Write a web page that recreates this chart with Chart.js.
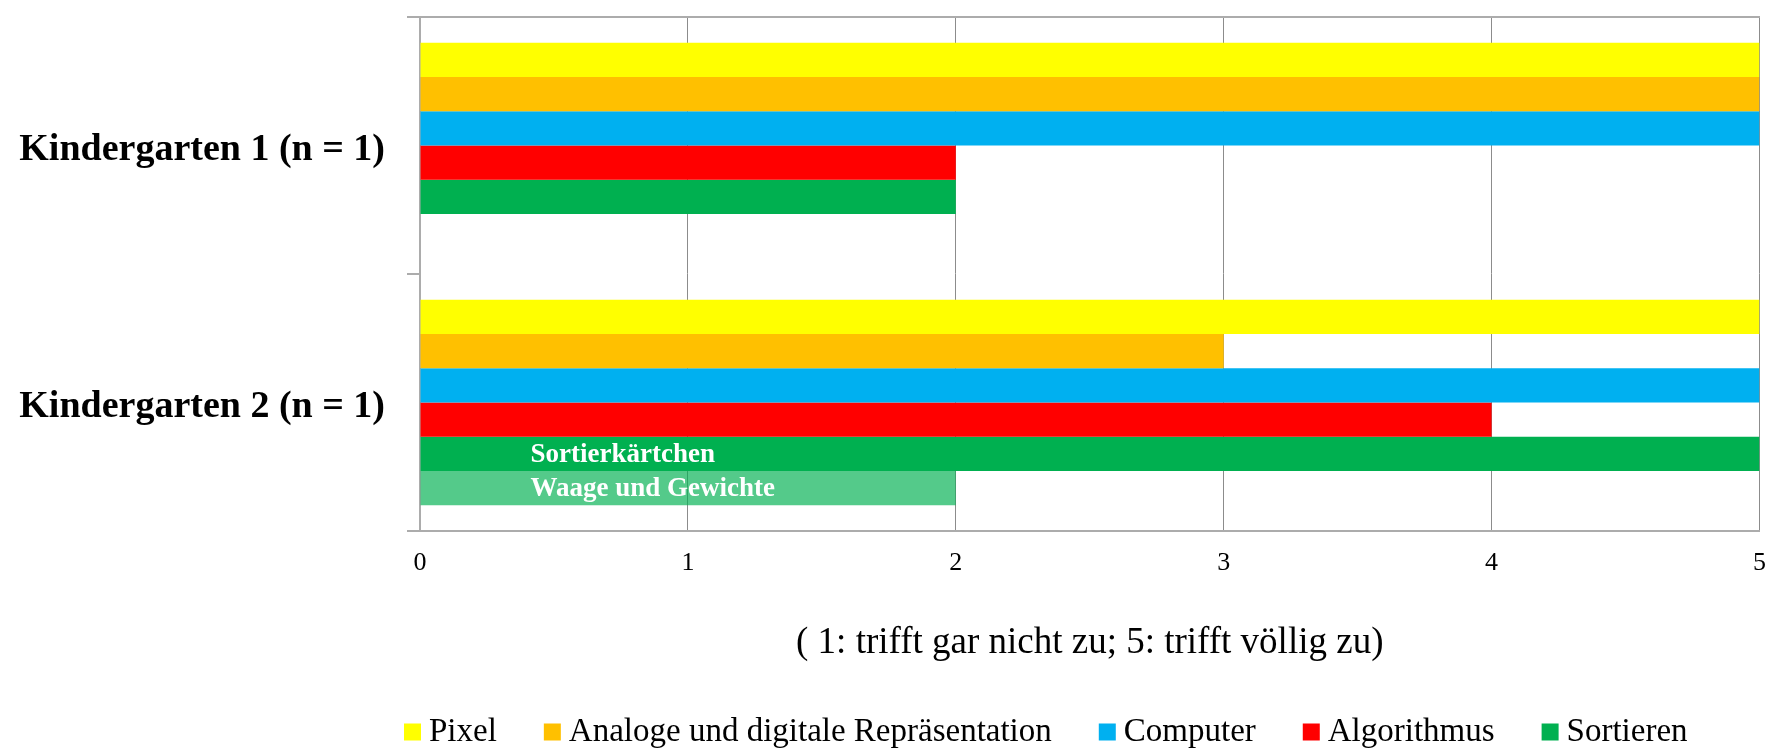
<!DOCTYPE html>
<html>
<head>
<meta charset="utf-8">
<script src="https://cdn.jsdelivr.net/npm/chart.js@4/dist/chart.umd.min.js"></script>
<style>
  html, body { margin: 0; padding: 0; background: #fff; }
</style>
</head>
<body>
<canvas id="rating-chart" width="1783" height="749"></canvas>
<script>
// Ratings per kindergarten (1: trifft gar nicht zu ... 5: trifft völlig zu)
const groups = ['Kindergarten 1 (n = 1)', 'Kindergarten 2 (n = 1)'];
const pixel = [5, 5];
const analog = [5, 3];
const computer = [5, 5];
const algorithmus = [2, 4];
const sortieren = [2, 5];
const waage = [null, 2];
const sortierenNotes = ['', 'Sortierkärtchen'];
const waageNotes = ['', 'Waage und Gewichte'];
const scaleMin = 0;
const scaleMax = 5;
const axisTitle = '( 1: trifft gar nicht zu; 5: trifft völlig zu)';

const SERIF = '"Liberation Serif", "Times New Roman", serif';
Chart.defaults.font.family = SERIF;
Chart.defaults.color = '#000';

// white captions inside the bars that carry a note
const barNotes = {
  id: 'barNotes',
  afterDatasetsDraw(chart) {
    const ctx = chart.ctx;
    ctx.save();
    ctx.font = 'bold 27px ' + SERIF;
    ctx.fillStyle = '#fff';
    ctx.textBaseline = 'middle';
    chart.data.datasets.forEach((ds, i) => {
      if (!ds.notes) return;
      chart.getDatasetMeta(i).data.forEach((bar, j) => {
        const note = ds.notes[j];
        if (note) ctx.fillText(note, bar.base + 110, bar.y + 1);
      });
    });
    ctx.restore();
  }
};

// legend row under the axis title: small square, text, next item
const bottomLegend = {
  id: 'bottomLegend',
  afterDraw(chart) {
    const ctx = chart.ctx;
    const box = 17;
    let x = chart.chartArea.left - 16;
    const y = chart.height - 17;
    ctx.save();
    ctx.font = '33px ' + SERIF;
    ctx.textBaseline = 'middle';
    chart.data.datasets.forEach(ds => {
      if (ds.hideInLegend) return;
      ctx.fillStyle = ds.backgroundColor;
      ctx.fillRect(x, y - box / 2, box, box);
      x += box + 8;
      ctx.fillStyle = '#000';
      ctx.fillText(ds.label, x, y);
      x += ctx.measureText(ds.label).width + 47;
    });
    ctx.restore();
  }
};

new Chart(document.getElementById('rating-chart'), {
  type: 'bar',
  data: {
    labels: groups,
    datasets: [
      { label: 'Pixel', data: pixel, backgroundColor: '#FFFF00' },
      { label: 'Analoge und digitale Repräsentation', data: analog, backgroundColor: '#FFC000' },
      { label: 'Computer', data: computer, backgroundColor: '#00B0F0' },
      { label: 'Algorithmus', data: algorithmus, backgroundColor: '#FF0000' },
      { label: 'Sortieren', data: sortieren, backgroundColor: '#00B050', notes: sortierenNotes },
      { label: 'Waage und Gewichte', data: waage, backgroundColor: 'rgba(0,176,80,0.67)', notes: waageNotes, hideInLegend: true }
    ]
  },
  options: {
    indexAxis: 'y',
    responsive: false,
    animation: false,
    layout: { padding: { top: 17, right: 21, bottom: 80, left: 0 } },
    datasets: {
      bar: { barPercentage: 1, categoryPercentage: 0.8, borderWidth: 0 }
    },
    scales: {
      x: {
        min: scaleMin,
        max: scaleMax,
        ticks: { stepSize: 1, padding: 17, font: { size: 26 } },
        grid: { color: '#8C8C8C', lineWidth: 1, drawTicks: false },
        border: { color: '#ACACAC', width: 2 },
        title: {
          display: true,
          text: axisTitle,
          font: { size: 37 },
          padding: { top: 0, bottom: 4 }
        },
        afterFit(scale) { scale.height = 138; }
      },
      xTop: {
        type: 'linear',
        position: 'top',
        min: scaleMin,
        max: scaleMax,
        ticks: { display: false },
        grid: { display: false },
        border: { color: '#ACACAC', width: 2 },
        afterFit(scale) { scale.height = 0; }
      },
      y: {
        ticks: { padding: 22, labelOffset: 5, font: { size: 38, weight: 'bold' } },
        grid: { drawOnChartArea: false, tickLength: 13, color: '#ACACAC', lineWidth: 2 },
        border: { color: '#ACACAC', width: 2 },
        afterFit(scale) {
          scale.width = 420;
          // labels sit mid-category, so no extra room above/below the plot
          scale.paddingTop = 0;
          scale.paddingBottom = 0;
        }
      }
    },
    plugins: {
      legend: { display: false },
      tooltip: { enabled: false }
    }
  },
  plugins: [barNotes, bottomLegend]
});
</script>
</body>
</html>
